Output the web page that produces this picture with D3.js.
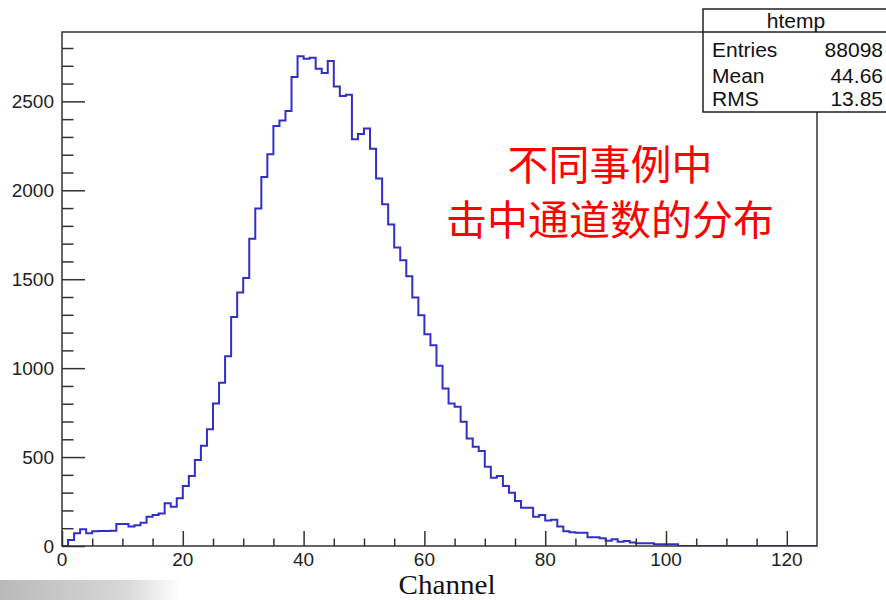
<!DOCTYPE html>
<html>
<head>
<meta charset="utf-8">
<script src="https://cdn.jsdelivr.net/npm/d3@7"></script>
<style>
  html, body { margin: 0; padding: 0; background: #fff; }
  svg { display: block; }
</style>
</head>
<body>
<svg id="chart" width="886" height="600"></svg>
<script>
// ---- data ----
// histogram counts per channel bin (bin width 1, first bin starts at channel 0)
const binStart = 0;
const binWidth = 1;
const counts = [
  0, 34, 71, 94, 71, 83, 85, 84, 86, 124,
  123, 109, 116, 131, 165, 174, 183, 240, 221, 268,
  337, 393, 483, 563, 657, 801, 918, 1067, 1288, 1425,
  1507, 1727, 1897, 2075, 2202, 2361, 2393, 2446, 2637, 2753,
  2740, 2745, 2684, 2659, 2727, 2584, 2530, 2537, 2287, 2316,
  2347, 2234, 2066, 1921, 1807, 1678, 1607, 1517, 1397, 1298,
  1191, 1129, 1013, 886, 801, 783, 698, 605, 558, 534,
  446, 384, 393, 337, 300, 253, 215, 215, 165, 174,
  144, 148, 110, 83, 78, 74, 74, 49, 49, 43,
  30, 38, 24, 28, 19, 15, 15, 15, 10, 10,
  10, 10
];
const xDomain = [0, 125];
const yDomain = [0, 2890];
const xTicks = [0, 20, 40, 60, 80, 100, 120];
const xMinorTicks = [5, 10, 15, 25, 30, 35, 45, 50, 55, 65, 70, 75, 85, 90, 95, 105, 110, 115];
const yTicks = [0, 500, 1000, 1500, 2000, 2500];
const yMinorTicks = [100, 200, 300, 400, 600, 700, 800, 900, 1100, 1200, 1300, 1400,
                     1600, 1700, 1800, 1900, 2100, 2200, 2300, 2400, 2600, 2700, 2800];
const statsTitle = "htemp";
const statsNames = ["Entries", "Mean", "RMS"];
const statsValues = ["88098", "44.66", "13.85"];
const xTitle = "Channel";
const noteLines = ["不同事例中", "击中通道数的分布"];

// ---- layout ----
const svg = d3.select("#chart");
const L = 62, R = 817, T = 32, B = 546;
const x = d3.scaleLinear().domain(xDomain).range([L, R]);
const y = d3.scaleLinear().domain(yDomain).range([B, T]);
const sans = "'Liberation Sans', Arial, Helvetica, sans-serif";

// faint slide decoration bottom-left
const defs = svg.append("defs");
const grad = defs.append("linearGradient").attr("id", "deco").attr("x1", 0).attr("x2", 1);
grad.append("stop").attr("offset", "0%").attr("stop-color", "#b9b9b9");
grad.append("stop").attr("offset", "70%").attr("stop-color", "#d8d8d8");
grad.append("stop").attr("offset", "100%").attr("stop-color", "#ffffff");
svg.append("rect").attr("x", 0).attr("y", 580).attr("width", 180).attr("height", 20)
  .attr("fill", "url(#deco)");

defs.append("clipPath").attr("id", "frameclip")
  .append("rect").attr("x", L).attr("y", T).attr("width", R - L).attr("height", B - T);

// histogram step outline
const pts = [[x(binStart), y(0)]];
counts.forEach((v, i) => {
  const lo = binStart + i * binWidth, hi = lo + binWidth;
  pts.push([x(lo), y(v)]);
  pts.push([x(hi), y(v)]);
});
pts.push([x(binStart + counts.length * binWidth), y(0)]);
pts.push([x(xDomain[1]), y(0)]);
svg.append("path")
  .attr("clip-path", "url(#frameclip)")
  .attr("d", d3.line()(pts))
  .attr("fill", "none")
  .attr("stroke", "#3030c4")
  .attr("stroke-width", 2)
  .attr("stroke-linejoin", "miter");

// frame
svg.append("rect").attr("x", L).attr("y", T).attr("width", R - L).attr("height", B - T)
  .attr("fill", "none").attr("stroke", "#333").attr("stroke-width", 1.5);

// y axis ticks (inside frame)
const yAxis = d3.axisRight(y).tickValues(yTicks).tickSize(23).tickFormat("");
const gy = svg.append("g").attr("transform", `translate(${L},0)`).call(yAxis);
const yAxisMinor = d3.axisRight(y).tickValues(yMinorTicks).tickSize(11.5).tickFormat("");
const gym = svg.append("g").attr("transform", `translate(${L},0)`).call(yAxisMinor);
[gy, gym].forEach(g => {
  g.select(".domain").remove();
  g.selectAll("line").attr("stroke", "#333").attr("stroke-width", 1.5);
});
svg.append("g").selectAll("text").data(yTicks).join("text")
  .attr("x", L - 8).attr("y", d => y(d)).attr("dy", "0.36em")
  .attr("text-anchor", "end").attr("font-family", sans).attr("font-size", 19)
  .attr("fill", "#222").text(d => d);

// x axis ticks (inside frame)
const xAxis = d3.axisTop(x).tickValues(xTicks).tickSize(15).tickFormat("");
const gx = svg.append("g").attr("transform", `translate(0,${B})`).call(xAxis);
const xAxisMinor = d3.axisTop(x).tickValues(xMinorTicks).tickSize(7.5).tickFormat("");
const gxm = svg.append("g").attr("transform", `translate(0,${B})`).call(xAxisMinor);
[gx, gxm].forEach(g => {
  g.select(".domain").remove();
  g.selectAll("line").attr("stroke", "#333").attr("stroke-width", 1.5);
});
svg.append("g").selectAll("text").data(xTicks).join("text")
  .attr("x", d => x(d)).attr("y", 565.5)
  .attr("text-anchor", "middle").attr("font-family", sans).attr("font-size", 19)
  .attr("fill", "#222").text(d => d);

// x title
svg.append("text").attr("x", 447).attr("y", 594)
  .attr("text-anchor", "middle")
  .attr("font-family", "'Liberation Serif', 'Times New Roman', serif")
  .attr("font-size", 27).attr("fill", "#111")
  .attr("textLength", 97).attr("lengthAdjust", "spacingAndGlyphs")
  .text(xTitle);

// stats box
const sb = { x: 703, y: 9, w: 190, h: 103, head: 23 };
svg.append("rect").attr("x", sb.x).attr("y", sb.y).attr("width", sb.w).attr("height", sb.h)
  .attr("fill", "#fff").attr("stroke", "#222").attr("stroke-width", 1.5);
svg.append("line").attr("x1", sb.x).attr("x2", sb.x + sb.w)
  .attr("y1", sb.y + sb.head).attr("y2", sb.y + sb.head)
  .attr("stroke", "#222").attr("stroke-width", 1.5);
svg.append("text").attr("x", 796).attr("y", 28).attr("text-anchor", "middle")
  .attr("font-family", sans).attr("font-size", 21).attr("fill", "#111").text(statsTitle);
const rowY = [57, 83, 106];
svg.append("g").selectAll("text").data(statsNames).join("text")
  .attr("x", 712).attr("y", (d, i) => rowY[i])
  .attr("font-family", sans).attr("font-size", 21).attr("fill", "#111").text(d => d);
svg.append("g").selectAll("text").data(statsValues).join("text")
  .attr("x", 883).attr("y", (d, i) => rowY[i]).attr("text-anchor", "end")
  .attr("font-family", sans).attr("font-size", 21).attr("fill", "#111").text(d => d);

// red annotation
const cjk = "'Noto Sans CJK SC', 'Noto Sans CJK TC', sans-serif";
svg.append("g").selectAll("text").data(noteLines).join("text")
  .attr("x", 610).attr("y", (d, i) => 180 + i * 55)
  .attr("text-anchor", "middle").attr("font-family", cjk).attr("font-size", 41)
  .attr("fill", "#ff0000").text(d => d);
</script>
</body>
</html>
